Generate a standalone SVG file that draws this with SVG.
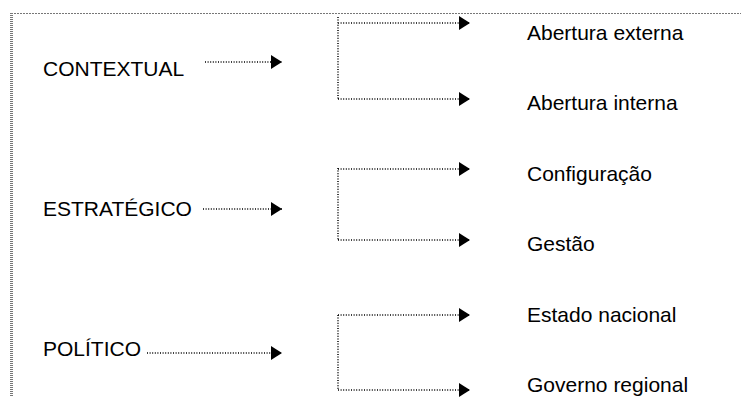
<svg xmlns="http://www.w3.org/2000/svg" width="741" height="397" viewBox="0 0 741 397">
<defs>
<style>
.t{font-family:"Liberation Sans",Arial,sans-serif;font-size:21px;fill:#000}
.c{fill:none;stroke:#000;stroke-width:1.5;stroke-dasharray:1 1.6}
.b{fill:none;stroke:#777}
</style>
<marker id="ah" markerUnits="userSpaceOnUse" markerWidth="12" markerHeight="15" refX="11" refY="7" orient="auto" viewBox="0 0 12 15">
<path d="M0,0 L11,7 L0,14 z" fill="#000"/>
</marker>
</defs>
<g id="frame">
<line class="b" x1="11" y1="13.5" x2="741" y2="13.5" stroke-dasharray="2 1"/>
<line class="b" x1="11.5" y1="13" x2="11.5" y2="397" stroke-width="3" stroke-dasharray="1 1" stroke="#555"/>
</g>
<g id="n-contextual"><text class="t" x="43" y="76">CONTEXTUAL</text></g>
<g id="n-estrategico"><text class="t" x="43" y="216">ESTRATÉGICO</text></g>
<g id="n-politico"><text class="t" x="43" y="356">POLÍTICO</text></g>
<g id="n-ab-ext"><text class="t" x="527" y="40">Abertura externa</text></g>
<g id="n-ab-int"><text class="t" x="527" y="110">Abertura interna</text></g>
<g id="n-config"><text class="t" x="527" y="181">Configuração</text></g>
<g id="n-gestao"><text class="t" x="527" y="251">Gestão</text></g>
<g id="n-estado"><text class="t" x="527" y="322">Estado nacional</text></g>
<g id="n-governo"><text class="t" x="527" y="392">Governo regional</text></g>
<g id="connectors">
<line class="c" x1="205" y1="62" x2="282" y2="62" marker-end="url(#ah)"/>
<line class="c" x1="203" y1="209" x2="282" y2="209" marker-end="url(#ah)"/>
<line class="c" x1="147" y1="353" x2="282" y2="353" marker-end="url(#ah)"/>
<path class="c" d="M338,17 V99 M338,23 H470 M338,99 H470"/>
<line class="c" x1="460" y1="23" x2="470" y2="23" marker-end="url(#ah)"/>
<line class="c" x1="460" y1="99" x2="470" y2="99" marker-end="url(#ah)"/>
<path class="c" d="M338,168 V240 M338,169 H470 M338,240 H470"/>
<line class="c" x1="460" y1="169" x2="470" y2="169" marker-end="url(#ah)"/>
<line class="c" x1="460" y1="240" x2="470" y2="240" marker-end="url(#ah)"/>
<path class="c" d="M338,315 V390 M338,315 H470 M338,390 H470"/>
<line class="c" x1="460" y1="315" x2="470" y2="315" marker-end="url(#ah)"/>
<line class="c" x1="460" y1="390" x2="470" y2="390" marker-end="url(#ah)"/>
</g>
</svg>
